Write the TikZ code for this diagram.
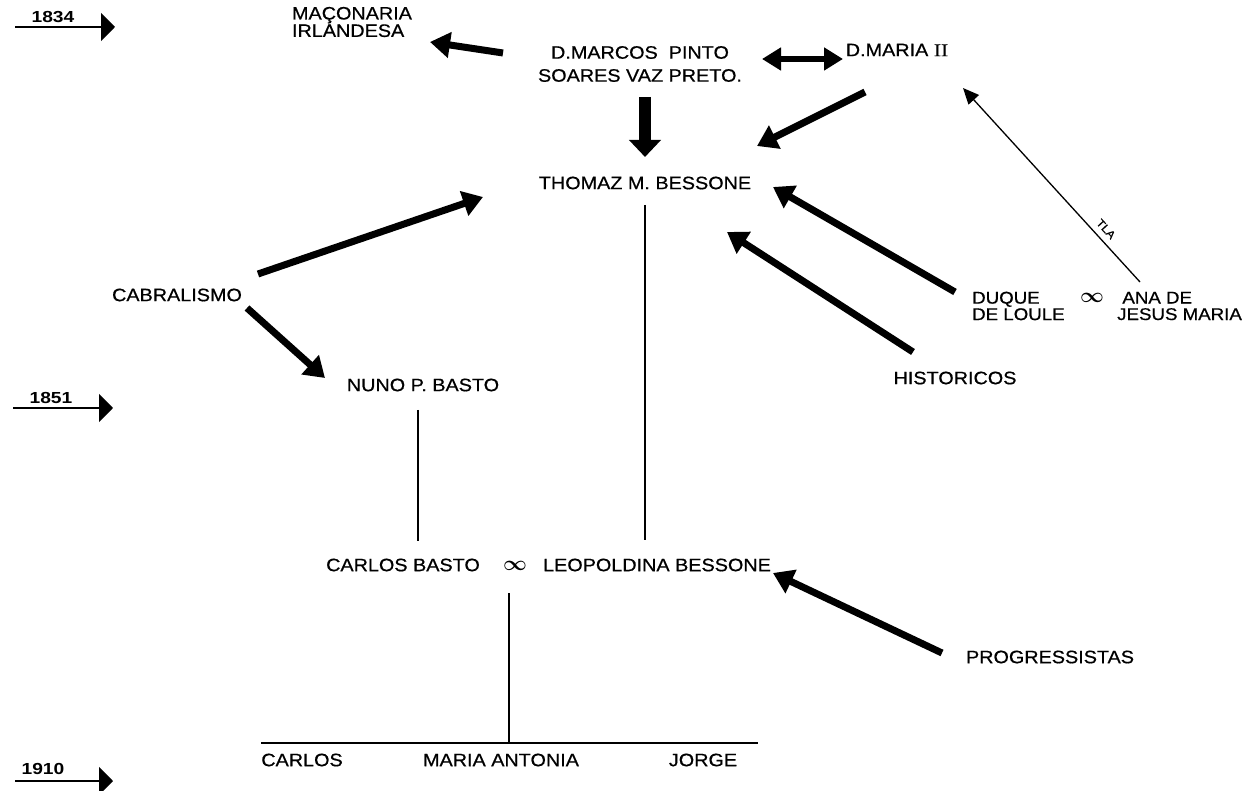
\documentclass[tikz,border=0pt]{standalone}
\usepackage{amsmath}
\usepackage{fontspec}
\setmainfont{Liberation Sans}[FakeStretch=1.1, FakeBold=0.6]
\newfontfamily\serf{Liberation Serif}[FakeStretch=1.2, FakeBold=0.6]
\newfontfamily\yearfont{Liberation Sans Bold}[FakeStretch=1.2]
\usetikzlibrary{arrows.meta}
\tikzset{
  lbl/.style={inner sep=0pt, font=\fontsize{18}{22}\selectfont},
  lbltwo/.style={inner sep=0pt, align=left, font=\fontsize{17}{16.5}\selectfont},
  yr/.style={inner sep=0pt, font=\yearfont\fontsize{16}{17}\selectfont},
  yeararrow/.style={line width=1.5pt, -{Triangle[length=14pt,width=28pt]}},
  big/.style={line width=7pt, -{Triangle[length=20pt,width=25pt]}},
  dbl/.style={line width=6pt, {Triangle[length=19pt,width=22pt]}-{Triangle[length=19pt,width=22pt]}},
  down/.style={line width=12pt, -{Triangle[length=17pt,width=31pt]}},
  thinarrow/.style={line width=1.3pt, -{Triangle[length=16pt,width=14pt]}},
  link/.style={line width=1.1pt},
}
\begin{document}
\begin{tikzpicture}[x=1pt,y=-1pt]
\path[use as bounding box] (0,0) rectangle (1259,791);

% year markers
\node[yr] (y1834) at (53,17) {1834};
\node[yr] (y1851) at (51,398) {1851};
\node[yr] (y1910) at (43,769) {1910};
\coordinate (t1a) at (15,27);  \coordinate (t1b) at (115,27);
\coordinate (t2a) at (13,408); \coordinate (t2b) at (113,408);
\coordinate (t3a) at (15,781); \coordinate (t3b) at (113,781);
\draw[yeararrow] (t1a) -- (t1b);
\draw[yeararrow] (t2a) -- (t2b);
\draw[yeararrow] (t3a) -- (t3b);

% nodes
\node[lbl, align=left, font=\fontsize{18}{15.5}\selectfont] (maconaria) at (352,22) {MAÇONARIA\\IRLANDESA};
\node[lbl, align=center, font=\fontsize{18}{23}\selectfont] (marcos) at (640,64) {D.MARCOS\ \ PINTO\\SOARES VAZ PRETO.};
\node[lbl] (mariaII) at (897,50) {D.MARIA {\serf II}};
\node[lbl] (thomaz) at (645,183) {THOMAZ M. BESSONE};
\node[lbl] (cabralismo) at (177,295) {CABRALISMO};
\node[lbl] (nuno) at (423,385) {NUNO P. BASTO};
\node[lbltwo, anchor=west] (duque) at (972,306) {DUQUE\\DE LOULE};
\node[inner sep=0pt, font=\fontsize{20}{20}\selectfont] (inf1) at (1092,298) {$\boldsymbol{\infty}$};
\node[lbltwo, anchor=west] (ana) at (1117,306) {\ ANA DE\\JESUS MARIA};
\node[lbl] (historicos) at (955,378) {HISTORICOS};
\node[lbl] (carlosb) at (403,565) {CARLOS BASTO};
\node[inner sep=0pt, font=\fontsize{20}{20}\selectfont] (inf2) at (515,566) {$\boldsymbol{\infty}$};
\node[lbl] (leop) at (657,565) {LEOPOLDINA BESSONE};
\node[lbl] (progressistas) at (1050,657) {PROGRESSISTAS};
\node[lbl] (carlos) at (302,760) {CARLOS};
\node[lbl] (mariaant) at (501,760) {MARIA ANTONIA};
\node[lbl] (jorge) at (703,760) {JORGE};

% arrow end points
\coordinate (a1s) at (503,53);  \coordinate (a1e) at (430,42);
\coordinate (a2s) at (762,59);  \coordinate (a2e) at (843,59);
\coordinate (a3s) at (645,97);  \coordinate (a3e) at (645,157);
\coordinate (a4s) at (865,92);  \coordinate (a4e) at (757,146);
\coordinate (a5s) at (258,274); \coordinate (a5e) at (483,197);
\coordinate (a6s) at (247,308); \coordinate (a6e) at (325,378);
\coordinate (a7s) at (955,292); \coordinate (a7e) at (773,187);
\coordinate (a8s) at (913,352); \coordinate (a8e) at (727,232);
\coordinate (a9s) at (942,653); \coordinate (a9e) at (773,573);
\coordinate (tlas) at (1140,282); \coordinate (tlae) at (963,88);

\draw[big] (a1s) -- (a1e);
\draw[dbl] (a2s) -- (a2e);
\draw[down] (a3s) -- (a3e);
\draw[big] (a4s) -- (a4e);
\draw[big] (a5s) -- (a5e);
\draw[big] (a6s) -- (a6e);
\draw[big] (a7s) -- (a7e);
\draw[big] (a8s) -- (a8e);
\draw[big] (a9s) -- (a9e);
\draw[thinarrow] (tlas) -- (tlae);
\node[inner sep=0pt, font=\fontsize{11}{12}\selectfont, rotate=-47.6] (tla) at (1106,229) {TLA};

% family lines
\coordinate (n1) at (418,410);  \coordinate (n2) at (418,541);
\coordinate (b1) at (645,205);  \coordinate (b2) at (645,540);
\coordinate (c1) at (509,593);  \coordinate (c2) at (509,743);
\coordinate (h1) at (261,743);  \coordinate (h2) at (758,743);
\draw[link] (n1) -- (n2);
\draw[link] (b1) -- (b2);
\draw[link] (c1) -- (c2);
\draw[link] (h1) -- (h2);
\end{tikzpicture}
\end{document}
